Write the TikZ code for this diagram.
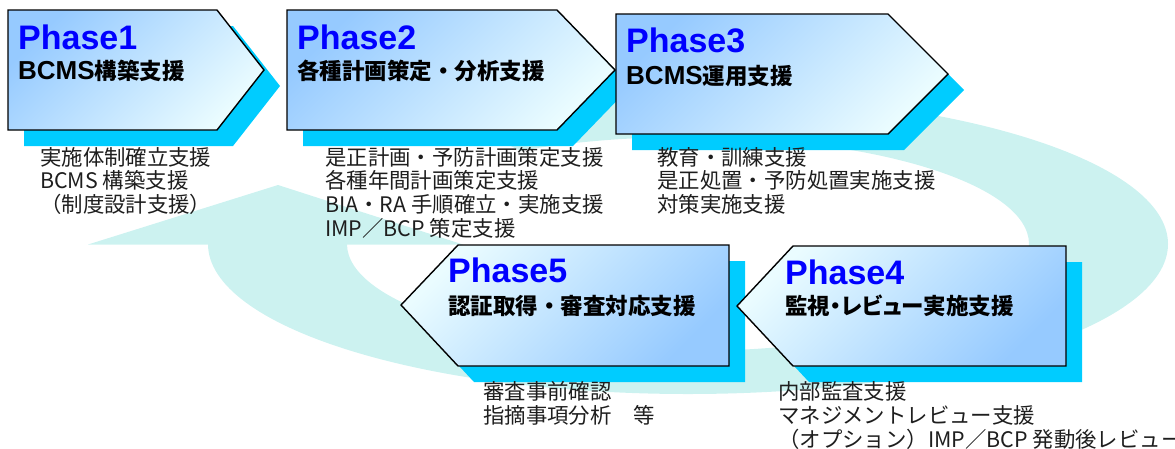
\documentclass[tikz,border=0pt]{standalone}
\usepackage{fontspec}
\setmainfont{Liberation Sans}
\newfontfamily\jp{Noto Sans CJK JP}
\newfontfamily\jpp{Noto Sans CJK JP}[RawFeature=+palt]
\definecolor{ringc}{RGB}{204,242,240}
\definecolor{shadowc}{RGB}{0,204,255}
\definecolor{boxdark}{RGB}{150,202,255}
\definecolor{boxlight}{RGB}{234,252,255}
\definecolor{phaseblue}{RGB}{0,0,255}
\definecolor{bodytext}{RGB}{30,30,30}
\tikzset{
  boxshadow/.style={fill=shadowc},
  boxa/.style={draw=black, line width=1.4pt, line join=miter, top color=boxdark, bottom color=boxlight, shading angle=45},
  boxb/.style={draw=black, line width=1.4pt, line join=miter, top color=boxlight, bottom color=boxdark, shading angle=45},
  phasetitle/.style={anchor=north west, inner sep=0pt, text=phaseblue, font=\bfseries\fontsize{34}{34}\selectfont},
  phasesub/.style={anchor=north west, inner sep=0pt, text=black, font=\jp\bfseries\fontsize{22.5}{24}\selectfont},
  phasesubp/.style={phasesub, font=\jpp\bfseries\fontsize{22.5}{24}\selectfont},
  bodytxt/.style={anchor=north west, inner sep=0pt, align=left, text=bodytext, font=\jp\fontsize{21.4}{23.7}\selectfont},
  bodytxtb/.style={bodytxt, font=\jp\fontsize{21.4}{24.2}\selectfont},
}
\newcommand{\latb}[1]{{\rmfamily\bfseries\fontsize{26}{26}\selectfont #1}}
\begin{document}
\begin{tikzpicture}[x=1pt,y=-1pt]
\useasboundingbox (0,0) rectangle (1175,448);
% background cycle ring
\begin{scope}
  \clip (688,244) -- (0,244) -- (0,470) -- (1200,470) -- (1200,-60) -- (139,-60) -- cycle;
  \fill[ringc, even odd rule] (688,244) ellipse [x radius=480pt, y radius=150pt]
                              (688,244) ellipse [x radius=341pt, y radius=107pt];
\end{scope}
\fill[ringc] (88,244.5) -- (278,185) -- (463,244.5) -- cycle;
% shadows
\begin{scope}[shift={(16,16)}]
  \fill[boxshadow] (8,10) -- (217,10) -- (264,70) -- (217,130) -- (8,130) -- cycle;
  \fill[boxshadow] (287,10) -- (557,10) -- (615,70) -- (557,130) -- (287,130) -- cycle;
  \fill[boxshadow] (616,14) -- (888,14) -- (948,74) -- (888,134) -- (616,134) -- cycle;
  \fill[boxshadow] (401,305) -- (458,245) -- (729,245) -- (729,366) -- (458,366) -- cycle;
  \fill[boxshadow] (737,306) -- (793,246) -- (1066,246) -- (1066,366) -- (793,366) -- cycle;
\end{scope}
% boxes
\path[boxa] (8,10) -- (217,10) -- (264,70) -- (217,130) -- (8,130) -- cycle;
\path[boxa] (287,10) -- (557,10) -- (615,70) -- (557,130) -- (287,130) -- cycle;
\path[boxa] (616,14) -- (888,14) -- (948,74) -- (888,134) -- (616,134) -- cycle;
\path[boxb] (401,305) -- (458,245) -- (729,245) -- (729,366) -- (458,366) -- cycle;
\path[boxb] (737,306) -- (793,246) -- (1066,246) -- (1066,366) -- (793,366) -- cycle;
% titles
\node[phasetitle] (p1t) at (18,25) {Phase1};
\node[phasesub] (p1s) at (18,60) {\latb{BCMS}構築支援};
\node[phasetitle] (p2t) at (297,25) {Phase2};
\node[phasesub] (p2s) at (297,60) {各種計画策定・分析支援};
\node[phasetitle] (p3t) at (626,28) {Phase3};
\node[phasesub] (p3s) at (626,65) {\latb{BCMS}運用支援};
\node[phasetitle] (p5t) at (448,258) {Phase5};
\node[phasesub] (p5s) at (448,295) {認証取得・審査対応支援};
\node[phasetitle] (p4t) at (785,260) {Phase4};
\node[phasesubp] (p4s) at (785,295) {監視・レビュー実施支援};
% descriptions
\node[bodytxt] (p1b) at (40,147) {実施体制確立支援\\BCMS 構築支援\\（制度設計支援）};
\node[bodytxt] (p2b) at (325,147) {是正計画・予防計画策定支援\\各種年間計画策定支援\\BIA・RA 手順確立・実施支援\\IMP／BCP 策定支援};
\node[bodytxt] (p3b) at (657,147) {教育・訓練支援\\是正処置・予防処置実施支援\\対策実施支援};
\node[bodytxtb] (p5b) at (483,381) {審査事前確認\\指摘事項分析　等};
\node[bodytxtb] (p4b) at (778,381) {内部監査支援\\マネジメントレビュー支援\\（オプション）IMP／BCP 発動後レビュー};
\end{tikzpicture}
\end{document}
